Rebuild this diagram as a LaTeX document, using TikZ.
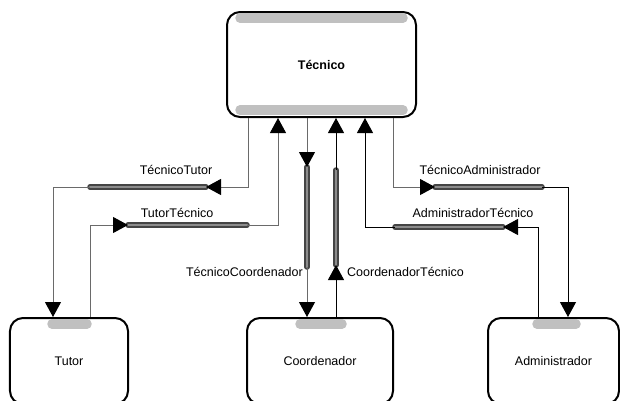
\documentclass[tikz,border=0pt]{standalone}
\usepackage{fontspec}
\setmainfont{Liberation Sans}
\usetikzlibrary{arrows.meta}
\definecolor{tubeout}{HTML}{454545}
\definecolor{tubein}{HTML}{8C8C8C}
\definecolor{hdrbar}{HTML}{C0C0C0}
\definecolor{linegray}{HTML}{6A6A6A}
\begin{document}
\begin{tikzpicture}[x=1bp,y=-1bp,
  txt/.style={font=\fontsize{12.5bp}{15bp}\selectfont},
  entity/.style={draw=black, line width=2bp, rounded corners=13bp, inner sep=0pt, txt},
  lbl/.style={inner sep=0pt, txt},
  hdr/.style={draw=hdrbar, line width=9.5bp, line cap=round},
  tip/.style={-{Triangle[length=15bp,width=16bp,color=black]}},
  conn/.style={line width=1bp, draw=black, tip},
  conng/.style={line width=1bp, draw=linegray, tip},
  tubeo/.style={draw=tubeout, line width=5.5bp, line cap=round},
  tubei/.style={draw=tubein, line width=2.5bp, line cap=round}
]
\useasboundingbox (0,0) rectangle (620,400);
\clip (0,0) rectangle (620,400);

% boxes
\node[entity, minimum width=189bp, minimum height=105bp, font=\fontsize{12.5bp}{15bp}\selectfont\bfseries] (tec) at (321.5,64.5) {Técnico};
\node[entity, minimum width=118bp, minimum height=86bp] (tut) at (69,361) {Tutor};
\node[entity, minimum width=146bp, minimum height=86bp] (coo) at (320,361) {Coordenador};
\node[entity, minimum width=131bp, minimum height=86bp] (adm) at (553.5,361) {Administrador};

% grey header bars
\draw[hdr] (240,18) -- (403,18);
\draw[hdr] (240,110) -- (403,110);
\draw[hdr] (52,324) -- (87,324);
\draw[hdr] (300,324) -- (342,324);
\draw[hdr] (537,324) -- (576,324);

% tube end points
\coordinate (b1L) at (90,187);  \coordinate (b1R) at (206,187);
\coordinate (b2L) at (128,225); \coordinate (b2R) at (247,225);
\coordinate (b3T) at (307,167); \coordinate (b3B) at (307,267);
\coordinate (b4T) at (336,170); \coordinate (b4B) at (336,265);
\coordinate (b5L) at (435,187); \coordinate (b5R) at (542,187);
\coordinate (b6L) at (395,227); \coordinate (b6R) at (503,227);
% vertical guide coordinates
\coordinate (x1a) at (248,0); \coordinate (x1b) at (53,0);
\coordinate (x2a) at (90,0);  \coordinate (x2b) at (278,0);
\coordinate (x5a) at (393,0); \coordinate (x5b) at (568,0);
\coordinate (x6a) at (538,0); \coordinate (x6b) at (365,0);

% tubes
\foreach \a/\b in {b1L/b1R,b2L/b2R,b3T/b3B,b4T/b4B,b5L/b5R,b6L/b6R}{
  \draw[tubeo] (\a) -- (\b);
  \draw[tubei] (\a) -- (\b);
}

% TécnicoTutor
\draw[conng] (tec.south -| x1a) |- (b1R);
\draw[conng] (b1L) -| (tut.north -| x1b);
% TutorTécnico
\draw[conng] (tut.north -| x2a) |- (b2L);
\draw[conng] (b2R) -| (tec.south -| x2b);
% TécnicoCoordenador
\draw[conng] (tec.south -| b3T) -- (b3T);
\draw[conng] (b3B) -- (coo.north -| b3B);
% CoordenadorTécnico
\draw[conn] (coo.north -| b4B) -- (b4B);
\draw[conn] (b4T) -- (tec.south -| b4T);
% TécnicoAdministrador
\draw[conng] (tec.south -| x5a) |- (b5L);
\draw[conn] (b5R) -| (adm.north -| x5b);
% AdministradorTécnico
\draw[conn] (adm.north -| x6a) |- (b6R);
\draw[conn] (b6L) -| (tec.south -| x6b);

% labels
\node[lbl] (l1) at (176,170) {TécnicoTutor};
\node[lbl] (l2) at (177,213) {TutorTécnico};
\node[lbl, anchor=east] (l3) at (303,272) {TécnicoCoordenador};
\node[lbl, anchor=west] (l4) at (347,272) {CoordenadorTécnico};
\node[lbl] (l5) at (480,170) {TécnicoAdministrador};
\node[lbl] (l6) at (473,213) {AdministradorTécnico};
\end{tikzpicture}
\end{document}
